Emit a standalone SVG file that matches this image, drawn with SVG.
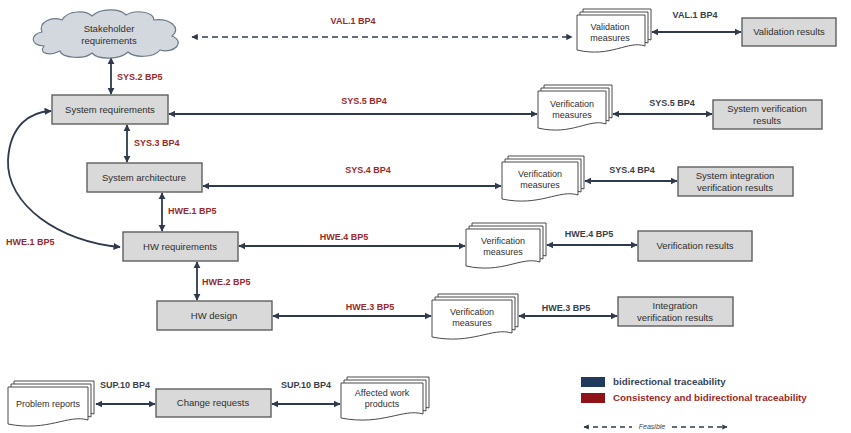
<svg xmlns="http://www.w3.org/2000/svg" width="851" height="433" viewBox="0 0 851 433">
  <style>
    .box { fill: #d9d9d9; stroke: #5f5f5f; stroke-width: 1.4; }
    .doc { fill: #ffffff; stroke: #4a4a4a; stroke-width: 1; }
    .cloud { fill: #d3d8de; stroke: #6d7a88; stroke-width: 1.2; }
    .t { font-family: "Liberation Sans", Arial, sans-serif; font-size: 9.5px; fill: #2e2e2e; text-anchor: middle; }
    .d { font-size: 9px; }
    .lbl { font-family: "Liberation Sans", Arial, sans-serif; font-size: 9px; font-weight: bold; }
    .leg { font-family: "Liberation Sans", Arial, sans-serif; font-size: 9.8px; font-weight: bold; }
    .red { fill: #9b2a2a; }
    .dark { fill: #3a3f47; }
    .link { fill: none; stroke: #2f3b4c; stroke-width: 1.8; marker-start: url(#ah); marker-end: url(#ah); }
    .dash { stroke-dasharray: 6 4; stroke-width: 1.6; }
  </style>
  <defs>
    <marker id="ah" viewBox="0 0 10 10" refX="9" refY="5" markerWidth="4" markerHeight="4" orient="auto-start-reverse" markerUnits="strokeWidth">
      <path d="M0 0 L10 5 L0 10 Z" fill="#2f3b4c"/>
    </marker>
  </defs>

  <rect width="851" height="433" fill="#ffffff"/>

  <!-- traceability connectors -->
  <g id="connectors">
    <path class="link dash" d="M192 37 H572"/>
    <path class="link" d="M652 32 H741"/>
    <path class="link" d="M111 58 V94"/>
    <path class="link" d="M169 114 H537"/>
    <path class="link" d="M613 114 H712"/>
    <path class="link" d="M127 125 V162"/>
    <path class="link" d="M203 186 H501"/>
    <path class="link" d="M585 181 H677"/>
    <path class="link" d="M162 193 V231"/>
    <path class="link" d="M120 247 C60 242, 6 205, 8 160 C10 125, 30 112, 51 111" stroke-width="1.6"/>
    <path class="link" d="M239 246 H465"/>
    <path class="link" d="M547 245 H637"/>
    <path class="link" d="M197 262 V300"/>
    <path class="link" d="M273 316 H431"/>
    <path class="link" d="M519 316 H617"/>
    <path class="link" d="M96 404 H155"/>
    <path class="link" d="M272 404 H340"/>
  </g>

  <!-- connector labels -->
  <g id="labels">
    <text class="lbl red" x="353" y="24" text-anchor="middle">VAL.1 BP4</text>
    <text class="lbl dark" x="695" y="18" text-anchor="middle">VAL.1 BP4</text>
    <text class="lbl red" x="117" y="80">SYS.2 BP5</text>
    <text class="lbl red" x="364" y="104" text-anchor="middle">SYS.5 BP4</text>
    <text class="lbl dark" x="672" y="106" text-anchor="middle">SYS.5 BP4</text>
    <text class="lbl red" x="134" y="146">SYS.3 BP4</text>
    <text class="lbl red" x="368" y="173" text-anchor="middle">SYS.4 BP4</text>
    <text class="lbl dark" x="632" y="173" text-anchor="middle">SYS.4 BP4</text>
    <text class="lbl red" x="168" y="214">HWE.1 BP5</text>
    <text class="lbl red" x="6" y="245">HWE.1 BP5</text>
    <text class="lbl red" x="344" y="240" text-anchor="middle">HWE.4 BP5</text>
    <text class="lbl dark" x="589" y="237" text-anchor="middle">HWE.4 BP5</text>
    <text class="lbl red" x="202" y="285">HWE.2 BP5</text>
    <text class="lbl red" x="370" y="310" text-anchor="middle">HWE.3 BP5</text>
    <text class="lbl dark" x="566" y="311" text-anchor="middle">HWE.3 BP5</text>
    <text class="lbl dark" x="125" y="388" text-anchor="middle">SUP.10 BP4</text>
    <text class="lbl dark" x="306" y="388" text-anchor="middle">SUP.10 BP4</text>
  </g>

  <!-- stakeholder requirements cloud -->
  <g id="stakeholder-requirements">
    <path class="cloud" d="M44 46 C30 46, 30 34, 42 32 C38 22, 52 16, 62 20 C68 10, 86 10, 92 16 C100 8, 120 8, 126 15 C136 9, 154 12, 154 20 C170 18, 182 28, 172 36 C186 42, 174 54, 160 50 C154 58, 134 58, 128 52 C120 60, 98 60, 92 53 C84 60, 62 58, 60 51 C50 56, 38 54, 44 46 Z"/>
    <text class="t" x="109" y="32">Stakeholder</text>
    <text class="t" x="109" y="44">requirements</text>
  </g>

  <!-- validation measures (stacked document) -->
  <g id="validation-measures">
    <path class="doc" d="M583 9 H651 V40 C634 34, 617 52, 583 44 Z"/>
    <path class="doc" d="M580 12 H648 V43 C631 37, 614 55, 580 47 Z"/>
    <path class="doc" d="M577 15 H645 V46 C628 40, 611 58, 577 50 Z"/>
    <text class="t d" x="610" y="30">Validation</text>
    <text class="t d" x="610" y="41">measures</text>
  </g>
  <g id="validation-results">
    <rect class="box" x="742" y="18" width="94" height="28"/>
    <text class="t" x="789" y="35">Validation results</text>
  </g>

  <g id="system-requirements">
    <rect class="box" x="52" y="95" width="116" height="29"/>
    <text class="t" x="110" y="113">System requirements</text>
  </g>
  <g id="sys-verification-measures">
    <path class="doc" d="M544 85 H612 V118 C595 112, 578 130, 544 122 Z"/>
    <path class="doc" d="M541 88 H609 V121 C592 115, 575 133, 541 125 Z"/>
    <path class="doc" d="M538 91 H606 V124 C589 118, 572 136, 538 128 Z"/>
    <text class="t d" x="572" y="107">Verification</text>
    <text class="t d" x="572" y="118">measures</text>
  </g>
  <g id="system-verification-results">
    <rect class="box" x="713" y="100" width="109" height="29"/>
    <text class="t" x="767" y="112">System verification</text>
    <text class="t" x="767" y="124">results</text>
  </g>

  <g id="system-architecture">
    <rect class="box" x="87" y="163" width="115" height="29"/>
    <text class="t" x="144" y="181">System architecture</text>
  </g>
  <g id="arch-verification-measures">
    <path class="doc" d="M508 156 H584 V189 C565 183, 546 201, 508 193 Z"/>
    <path class="doc" d="M505 159 H581 V192 C562 186, 543 204, 505 196 Z"/>
    <path class="doc" d="M502 162 H578 V195 C559 189, 540 207, 502 199 Z"/>
    <text class="t d" x="540" y="177">Verification</text>
    <text class="t d" x="540" y="188">measures</text>
  </g>
  <g id="system-integration-verification-results">
    <rect class="box" x="678" y="167" width="115" height="29"/>
    <text class="t" x="735" y="179">System integration</text>
    <text class="t" x="735" y="191">verification results</text>
  </g>

  <g id="hw-requirements">
    <rect class="box" x="123" y="232" width="115" height="29"/>
    <text class="t" x="180" y="250">HW requirements</text>
  </g>
  <g id="hw-verification-measures">
    <path class="doc" d="M472 223 H546 V256 C527 250, 509 268, 472 260 Z"/>
    <path class="doc" d="M469 226 H543 V259 C524 253, 506 271, 469 263 Z"/>
    <path class="doc" d="M466 229 H540 V262 C521 256, 503 274, 466 266 Z"/>
    <text class="t d" x="503" y="244">Verification</text>
    <text class="t d" x="503" y="255">measures</text>
  </g>
  <g id="verification-results">
    <rect class="box" x="638" y="231" width="114" height="30"/>
    <text class="t" x="695" y="249">Verification results</text>
  </g>

  <g id="hw-design">
    <rect class="box" x="157" y="301" width="115" height="29"/>
    <text class="t" x="214" y="319">HW design</text>
  </g>
  <g id="design-verification-measures">
    <path class="doc" d="M438 294 H518 V327 C498 321, 478 339, 438 331 Z"/>
    <path class="doc" d="M435 297 H515 V330 C495 324, 475 342, 435 334 Z"/>
    <path class="doc" d="M432 300 H512 V333 C492 327, 472 345, 432 337 Z"/>
    <text class="t d" x="472" y="315">Verification</text>
    <text class="t d" x="472" y="326">measures</text>
  </g>
  <g id="integration-verification-results">
    <rect class="box" x="618" y="297" width="115" height="29"/>
    <text class="t" x="675" y="309">Integration</text>
    <text class="t" x="675" y="321">verification results</text>
  </g>

  <!-- change management -->
  <g id="problem-reports">
    <path class="doc" d="M14 381 H94 V414 C74 408, 54 426, 14 418 Z"/>
    <path class="doc" d="M11 384 H91 V417 C71 411, 51 429, 11 421 Z"/>
    <path class="doc" d="M8 387 H88 V420 C68 414, 48 432, 8 424 Z"/>
    <text class="t d" x="48" y="407">Problem reports</text>
  </g>
  <g id="change-requests">
    <rect class="box" x="156" y="389" width="115" height="28"/>
    <text class="t" x="213" y="406">Change requests</text>
  </g>
  <g id="affected-work-products">
    <path class="doc" d="M347 377 H429 V408 C409 402, 388 420, 347 412 Z"/>
    <path class="doc" d="M344 380 H426 V411 C406 405, 385 423, 344 415 Z"/>
    <path class="doc" d="M341 383 H423 V414 C403 408, 382 426, 341 418 Z"/>
    <text class="t d" x="382" y="396">Affected work</text>
    <text class="t d" x="382" y="407">products</text>
  </g>

  <!-- legend -->
  <g id="legend">
    <rect x="581" y="377" width="24" height="10" fill="#1f3a5c"/>
    <text class="leg" x="613" y="385" fill="#3a4452">bidirectional traceability</text>
    <rect x="581" y="393" width="24" height="10" fill="#8e1218"/>
    <text class="leg" x="613" y="401" fill="#9b2a2a">Consistency and bidirectional traceability</text>
    <path d="M584 427 H632" fill="none" stroke="#2f3b4c" stroke-width="1.3" stroke-dasharray="5 4" marker-start="url(#ah)"/>
    <path d="M672 427 H727" fill="none" stroke="#2f3b4c" stroke-width="1.3" stroke-dasharray="5 4" marker-end="url(#ah)"/>
    <text x="652" y="429" font-family="Liberation Sans, Arial, sans-serif" font-size="7" font-style="italic" fill="#3a3f47" text-anchor="middle">Feasible</text>
  </g>
</svg>
